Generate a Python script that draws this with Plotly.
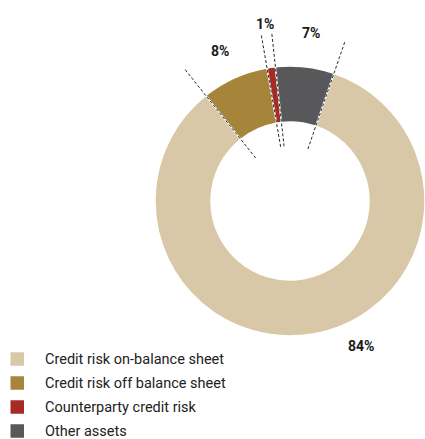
import math
import plotly.graph_objects as go

# ---- data ----
labels = ["Credit risk on-balance sheet", "Credit risk off balance sheet",
          "Counterparty credit risk", "Other assets"]
values = [84, 8, 1, 7]
pct_text = ["84%", "8%", "1%", "7%"]
colors = ["#D9C8A8", "#A6843A", "#A52B23", "#58585A"]

# ---- geometry (pixels) ----
W, H = 425, 439
CX, CY, R = 290, 201, 135
ROT = 19  # start angle of first slice, clockwise from 12 o'clock

def to_paper(r, ang_deg):
    a = math.radians(ang_deg)
    px = CX + r * math.sin(a)
    py = CY - r * math.cos(a)
    return px / W, 1 - py / H

fig = go.Figure()
fig.add_trace(go.Pie(
    labels=labels, values=values, sort=False, direction="clockwise",
    rotation=ROT, hole=0.585, textinfo="none", hoverinfo="label+percent",
    marker=dict(colors=colors, line=dict(color="white", width=1.5)),
    domain=dict(x=[(CX - R) / W, (CX + R) / W], y=[1 - (CY + R) / H, 1 - (CY - R) / H]),
    showlegend=False,
))

total = sum(values)
cum = ROT
bounds, mids = [], []
for v in values:
    start = cum
    cum += 360 * v / total
    bounds.append(start)
    mids.append((start + cum) / 2)

shapes = []
for b in bounds:
    x0, y0 = to_paper(55, b)
    x1, y1 = to_paper(168, b)
    shapes.append(dict(type="line", xref="paper", yref="paper", x0=x0, y0=y0, x1=x1, y1=y1,
                       line=dict(color="#2a2a2a", width=1, dash="3px,2px")))

annotations = []
# percentage labels (radius px, angle offset deg from slice middle)
label_pos = [(161.7, -16.4), (165.5, -0.8), (178.8, 0), (169.8, 0.7)]
for t, m, (r, off) in zip(pct_text, mids, label_pos):
    x, y = to_paper(r, m + off)
    annotations.append(dict(x=x, y=y, xref="paper", yref="paper", text=t, showarrow=False,
                            font=dict(size=14, color="#1a1a1a", family="Roboto", weight="bold"),
                            xanchor="center", yanchor="middle"))

# legend (drawn manually to match the reference spacing)
LEG_Y0, LEG_DY, SW = 359, 24, 13.5
for i, (lab, col) in enumerate(zip(labels, colors)):
    yc = LEG_Y0 + i * LEG_DY
    shapes.append(dict(type="rect", xref="paper", yref="paper",
                       x0=10.5 / W, x1=(10.5 + SW) / W,
                       y0=1 - (yc + SW / 2) / H, y1=1 - (yc - SW / 2) / H,
                       fillcolor=col, line=dict(width=0)))
    annotations.append(dict(x=43 / W, y=1 - yc / H, xref="paper", yref="paper", text=lab,
                            showarrow=False, xanchor="left", yanchor="middle",
                            font=dict(size=14.5, color="#222222", family="Roboto")))

fig.update_layout(
    width=W, height=H, margin=dict(l=0, r=0, t=0, b=0, autoexpand=False),
    paper_bgcolor="white", plot_bgcolor="white",
    shapes=shapes, annotations=annotations,
    showlegend=False,
)

fig.write_html("out.html")
